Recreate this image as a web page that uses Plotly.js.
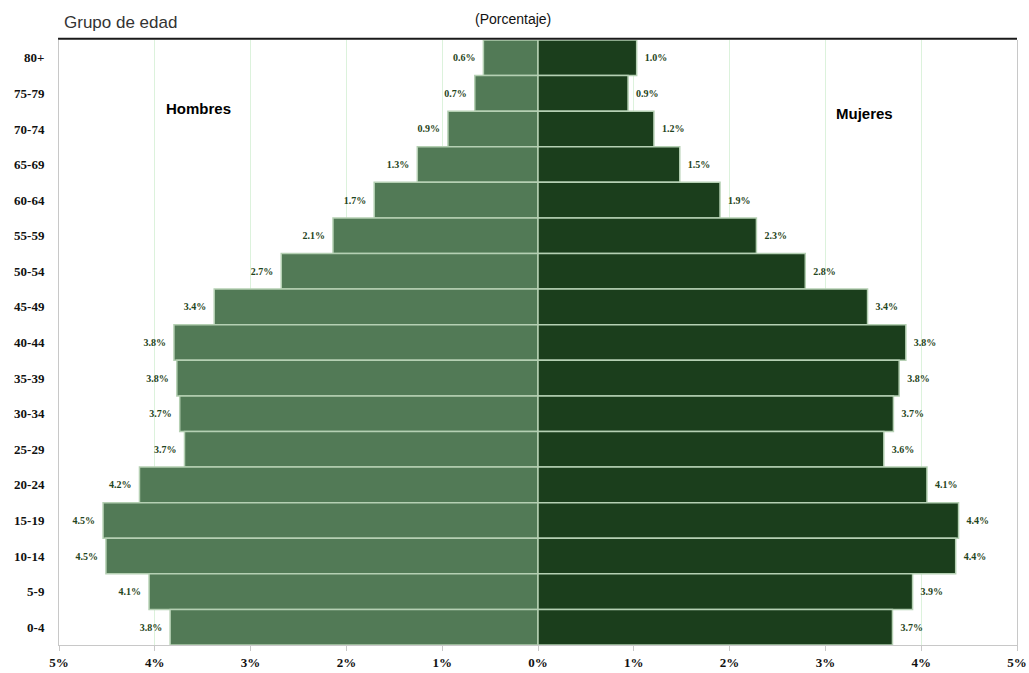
<!DOCTYPE html>
<html>
<head>
<meta charset="utf-8">
<script src="https://cdn.plot.ly/plotly-3.0.1.min.js"></script>
<style>
html,body{margin:0;padding:0;background:#fff;}
#chart{width:1029px;height:673px;}
</style>
</head>
<body>
<div id="chart"></div>
<script>
// Age groups, top to bottom as drawn
var ageGroups = ["80+","75-79","70-74","65-69","60-64","55-59","50-54","45-49","40-44","35-39","30-34","25-29","20-24","15-19","10-14","5-9","0-4"];
// Percent of population (men drawn to the left)
var hombres = [0.57,0.66,0.94,1.26,1.71,2.14,2.68,3.38,3.80,3.77,3.74,3.69,4.16,4.54,4.51,4.06,3.84];
var mujeres = [1.03,0.94,1.21,1.48,1.90,2.28,2.79,3.44,3.84,3.77,3.71,3.61,4.06,4.39,4.36,3.91,3.70];
// Axis ticks
var tickValues = [-5,-4,-3,-2,-1,0,1,2,3,4,5];
var tickLabels = ["5%","4%","3%","2%","1%","0%","1%","2%","3%","4%","5%"];

var serif = "Liberation Serif, Times New Roman, serif";
var sans = "Liberation Sans, Arial, sans-serif";
var pad = "\u00a0\u00a0";

var traceH = {
  type: "bar", orientation: "h", name: "Hombres",
  y: ageGroups,
  x: hombres.map(function(v){return -v;}),
  text: hombres.map(function(v){return v.toFixed(1) + "%" + pad;}),
  textposition: "outside", constraintext: "none", cliponaxis: false,
  textfont: {family: serif, size: 10, color: "#1f4420", weight: "bold"},
  marker: {color: "#527a56", line: {color: "#b5d0b3", width: 1.5}},
  hoverinfo: "skip"
};
var traceM = {
  type: "bar", orientation: "h", name: "Mujeres",
  y: ageGroups,
  x: mujeres,
  text: mujeres.map(function(v){return pad + v.toFixed(1) + "%";}),
  textposition: "outside", constraintext: "none", cliponaxis: false,
  textfont: {family: serif, size: 10, color: "#1f4420", weight: "bold"},
  marker: {color: "#1b3e1c", line: {color: "#b5d0b3", width: 1.5}},
  hoverinfo: "skip"
};

var layout = {
  width: 1029, height: 673,
  margin: {l: 59, r: 12, t: 40, b: 28, pad: 0},
  paper_bgcolor: "#ffffff", plot_bgcolor: "#ffffff",
  barmode: "relative", bargap: 0,
  showlegend: false,
  xaxis: {
    range: [-5, 5], tickmode: "array", tickvals: tickValues, ticktext: tickLabels,
    showgrid: true, gridcolor: "#dcf2dc", gridwidth: 1,
    zeroline: false,
    showline: true, linecolor: "#c8c8c8", linewidth: 1,
    ticks: "outside", ticklen: 5, tickcolor: "#c8c8c8",
    tickfont: {family: serif, size: 13, color: "#111", weight: "bold"},
    fixedrange: true
  },
  yaxis: {
    type: "category", autorange: "reversed",
    showgrid: false, zeroline: false,
    showline: true, linecolor: "#c8c8c8", linewidth: 1, mirror: true,
    ticks: "", ticklabelstandoff: 11,
    tickfont: {family: serif, size: 13, color: "#111", weight: "bold"},
    fixedrange: true
  },
  shapes: [
    {type: "line", xref: "paper", yref: "paper", x0: -0.001, x1: 1.0, y0: 1.002, y1: 1.002,
     line: {color: "#1a1a1a", width: 2}}
  ],
  annotations: [
    {text: "Grupo de edad", xref: "paper", yref: "paper", x: 0.003, y: 1.029, xanchor: "left", yanchor: "middle",
     showarrow: false, font: {family: "Liberation Sans Narrow, Liberation Sans, Arial, sans-serif", size: 17, color: "#333"}},
    {text: "(Porcentaje)", xref: "paper", yref: "paper", x: 0.474, y: 1.034, xanchor: "center", yanchor: "middle",
     showarrow: false, font: {family: sans, size: 14, color: "#111"}},
    {text: "Hombres", xref: "x", yref: "paper", x: -3.54, y: 0.886, xanchor: "center", yanchor: "middle",
     showarrow: false, font: {family: sans, size: 15, color: "#000", weight: "bold"}},
    {text: "Mujeres", xref: "x", yref: "paper", x: 3.41, y: 0.878, xanchor: "center", yanchor: "middle",
     showarrow: false, font: {family: sans, size: 15, color: "#000", weight: "bold"}}
  ]
};

Plotly.newPlot("chart", [traceH, traceM], layout, {displayModeBar: false, staticPlot: true});
</script>
</body>
</html>
